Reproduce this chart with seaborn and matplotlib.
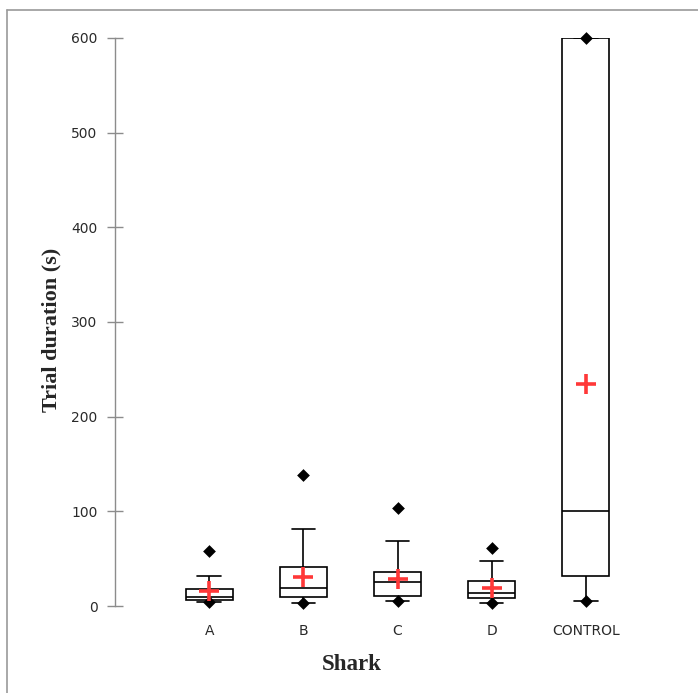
import matplotlib
matplotlib.use('Agg')
import matplotlib.pyplot as plt
import seaborn as sns
import pandas as pd
import numpy as np
from matplotlib.lines import Line2D

categories = ['A', 'B', 'C', 'D', 'CONTROL']
whisker_low = [4, 3, 5, 3, 5]
q1 = [6.5, 10, 11, 8, 32]
median = [10, 19, 25, 14, 100]
q3 = [18, 41, 36, 26, 600]
whisker_high = [32, 81, 69, 48, 600]
minimum = [4, 3, 5, 3, 5]
maximum = [58, 138, 103, 61, 600]
mean = [16, 31, 28, 19, 234]
yticks = [0, 100, 200, 300, 400, 500, 600]

sns.set_style('white')
plt.rcParams['font.family'] = ['DejaVu Sans']

fig = plt.figure(figsize=(6.98, 6.93), dpi=100)
ax = fig.add_axes([115 / 698, 87 / 693, 565 / 698, 568 / 693])

box_df = pd.DataFrame({
    'Shark': np.repeat(categories, 5),
    'value': np.ravel(np.column_stack([whisker_low, q1, median, q3, whisker_high])),
})
sns.boxplot(data=box_df, x='Shark', y='value', order=categories, whis=(0, 100),
            width=0.5, color='white', linecolor='black', linewidth=1.2,
            showfliers=False, saturation=1, ax=ax,
            capprops={'linewidth': 1.2})

ext_df = pd.DataFrame({'Shark': categories * 2, 'value': minimum + maximum})
sns.stripplot(data=ext_df, x='Shark', y='value', order=categories, jitter=False,
              marker='D', color='black', size=6.5, ax=ax, clip_on=False, zorder=5)

mean_df = pd.DataFrame({'Shark': categories, 'value': mean})
sns.stripplot(data=mean_df, x='Shark', y='value', order=categories, jitter=False,
              marker='+', color='#ff3838', size=15, linewidth=2.6, ax=ax,
              clip_on=False, zorder=6)

ax.set_xlim(-1, 5)
ax.set_ylim(0, 600)
ax.set_yticks(yticks)
ax.set_yticklabels([str(t) for t in yticks])
for s in ['top', 'right', 'bottom']:
    ax.spines[s].set_visible(False)
ax.spines['left'].set_color('#8c8c8c')
ax.spines['left'].set_linewidth(1.0)
ax.tick_params(axis='y', left=True, direction='inout', length=11, width=1, color='#8c8c8c',
               labelsize=10, labelcolor='#2a2a2a', pad=7)
ax.tick_params(axis='x', bottom=False, length=0, labelsize=10, labelcolor='#2a2a2a', pad=13)

ax.set_ylabel('Trial duration (s)', fontfamily='Liberation Serif', fontweight='bold', fontsize=16)
ax.set_xlabel('Shark', fontfamily='Liberation Serif', fontweight='bold', fontsize=16.5)
ax.yaxis.set_label_coords(-0.094, 0.486)
ax.xaxis.set_label_coords(0.419, -0.085)

fig.add_artist(Line2D([7 / 698, 1], [1 - 10 / 693, 1 - 10 / 693], color='#9a9a9a', lw=1.2))
fig.add_artist(Line2D([7 / 698, 7 / 698], [0, 1 - 10 / 693], color='#9a9a9a', lw=1.2))

fig.savefig('out.png', dpi=100)
